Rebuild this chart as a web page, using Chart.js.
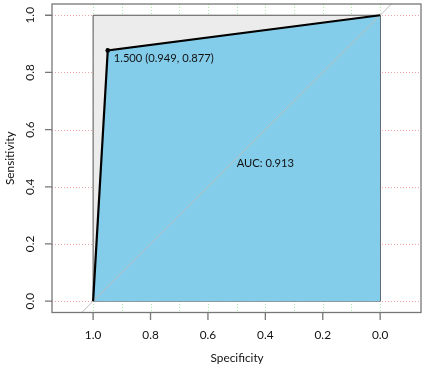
<!DOCTYPE html>
<html>
<head>
<meta charset="utf-8">
<script src="https://cdn.jsdelivr.net/npm/chart.js@4/dist/chart.umd.min.js"></script>
<style>
html,body{margin:0;padding:0;background:#fff;}
#wrap{width:425px;height:368px;}
</style>
</head>
<body>
<div id="wrap"><canvas id="c" width="425" height="368"></canvas></div>
<script>
// ---- data ----
const rocSpecificity = [1.0, 0.949, 0.0];
const rocSensitivity = [0.0, 0.877, 1.0];
const thresholdValue = 1.5;
const thresholdSpecificity = 0.949;
const thresholdSensitivity = 0.877;
const aucValue = 0.913;
const xTickValues = [1.0, 0.8, 0.6, 0.4, 0.2, 0.0];
const xTickLabels = ['1.0', '0.8', '0.6', '0.4', '0.2', '0.0'];
const yTickValues = [0.0, 0.2, 0.4, 0.6, 0.8, 1.0];
const yTickLabels = ['0.0', '0.2', '0.4', '0.6', '0.8', '1.0'];
const xGridValues = [0.0, 0.1, 0.2, 0.3, 0.4, 0.5, 0.6, 0.7, 0.8, 0.9, 1.0];
const yGridValues = [0.0, 0.2, 0.4, 0.6, 0.8, 1.0];
const xTitle = 'Specificity';
const yTitle = 'Sensitivity';

const FONT = 'Lato, "Open Sans", sans-serif';

// datasets built from arrays
const rocPoints = rocSpecificity.map((s, i) => ({x: s, y: rocSensitivity[i]}));
const aucPolygon = rocPoints.concat([{x: 0, y: 0}, {x: 1, y: 0}]);
const maxAucPolygon = [{x: 1, y: 0}, {x: 1, y: 1}, {x: 0, y: 1}, {x: 0, y: 0}, {x: 1, y: 0}];
const diagonal = [{x: 1.3, y: -0.3}, {x: -0.3, y: 1.3}];

const rAxisPlugin = {
  id: 'rAxis',
  beforeDatasetsDraw(chart) {
    const ctx = chart.ctx, a = chart.chartArea, xs = chart.scales.x, ys = chart.scales.y;
    ctx.save();
    ctx.lineWidth = 1;
    ctx.setLineDash([1, 2]);
    ctx.strokeStyle = '#f2a3a3';
    yGridValues.forEach(v => {
      const p = Math.round(ys.getPixelForValue(v)) + 0.5;
      ctx.beginPath(); ctx.moveTo(a.left, p); ctx.lineTo(a.right, p); ctx.stroke();
    });
    ctx.strokeStyle = '#a8eba8';
    xGridValues.forEach(v => {
      const p = Math.round(xs.getPixelForValue(v)) + 0.5;
      ctx.beginPath(); ctx.moveTo(p, a.top); ctx.lineTo(p, a.bottom); ctx.stroke();
    });
    ctx.restore();
  },
  afterDatasetsDraw(chart) {
    const ctx = chart.ctx, a = chart.chartArea, xs = chart.scales.x, ys = chart.scales.y;
    ctx.save();
    // box
    ctx.strokeStyle = '#777';
    ctx.lineWidth = 1.3;
    ctx.strokeRect(a.left, a.top, a.right - a.left, a.bottom - a.top);
    // ticks
    ctx.beginPath();
    xTickValues.forEach(v => {
      const p = xs.getPixelForValue(v);
      ctx.moveTo(p, a.bottom); ctx.lineTo(p, a.bottom + 7.5);
    });
    yTickValues.forEach(v => {
      const p = ys.getPixelForValue(v);
      ctx.moveTo(a.left, p); ctx.lineTo(a.left - 7, p);
    });
    ctx.stroke();
    // tick labels
    ctx.fillStyle = '#111';
    ctx.font = '11.8px ' + FONT;
    ctx.textAlign = 'center';
    ctx.textBaseline = 'middle';
    xTickValues.forEach((v, i) => {
      ctx.fillText(xTickLabels[i], xs.getPixelForValue(v), 335);
    });
    yTickValues.forEach((v, i) => {
      ctx.save();
      ctx.translate(30, ys.getPixelForValue(v));
      ctx.rotate(-Math.PI / 2);
      ctx.fillText(yTickLabels[i], 0, 0);
      ctx.restore();
    });
    // titles
    ctx.fillText(xTitle, (xs.getPixelForValue(0) + xs.getPixelForValue(1)) / 2 + 0.5, 358);
    ctx.save();
    ctx.translate(10, (ys.getPixelForValue(0) + ys.getPixelForValue(1)) / 2);
    ctx.rotate(-Math.PI / 2);
    ctx.fillText(yTitle, 0, 0);
    ctx.restore();
    // annotations
    ctx.textAlign = 'left';
    ctx.font = '11.2px ' + FONT;
    ctx.fillText(thresholdValue.toFixed(3) + ' (' + thresholdSpecificity.toFixed(3) + ', ' + thresholdSensitivity.toFixed(3) + ')',
      xs.getPixelForValue(thresholdSpecificity) + 6, ys.getPixelForValue(thresholdSensitivity) + 8);
    ctx.fillText('AUC: ' + aucValue.toFixed(3), xs.getPixelForValue(0.5), ys.getPixelForValue(0.5) + 5.5);
    ctx.restore();
  }
};

new Chart(document.getElementById('c'), {
  type: 'scatter',
  data: {
    datasets: [
      {data: rocPoints, showLine: true, borderColor: '#000', borderWidth: 2.2, pointRadius: 0, fill: false, order: 2},
      {data: [{x: thresholdSpecificity, y: thresholdSensitivity}], pointRadius: 2.3, pointBackgroundColor: '#000', pointBorderColor: '#000', pointBorderWidth: 0, order: 1},
      {data: diagonal, showLine: true, borderColor: '#bdbdbd', borderWidth: 1, pointRadius: 0, fill: false, order: 3},
      {data: aucPolygon, showLine: true, borderColor: 'rgba(0,0,0,0)', borderWidth: 0, backgroundColor: '#84cdea', pointRadius: 0, fill: 'shape', order: 4},
      {data: maxAucPolygon, showLine: true, borderColor: '#555', borderWidth: 1, backgroundColor: '#ececec', pointRadius: 0, fill: 'shape', order: 5}
    ]
  },
  options: {
    responsive: false,
    animation: false,
    events: [],
    layout: {padding: {left: 52, top: 3, right: 2.5, bottom: 55.5}},
    plugins: {legend: {display: false}, tooltip: {enabled: false}},
    scales: {
      x: {type: 'linear', reverse: true, min: -0.1422, max: 1.1432, display: false},
      y: {type: 'linear', min: -0.0397, max: 1.0393, display: false}
    }
  },
  plugins: [rAxisPlugin]
});
</script>
</body>
</html>
